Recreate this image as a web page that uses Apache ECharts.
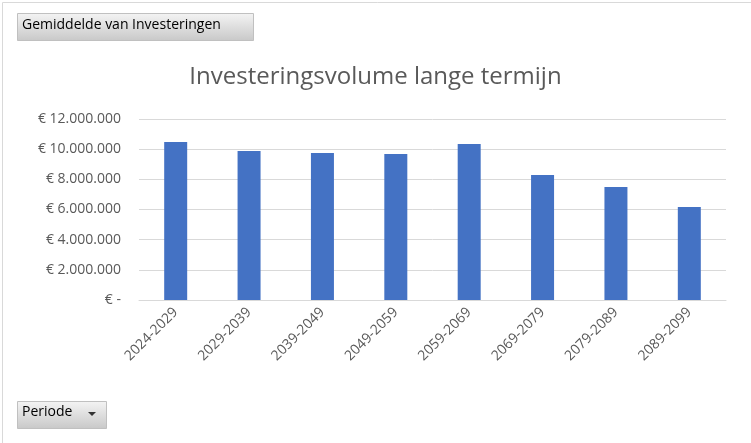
<!DOCTYPE html>
<html><head><meta charset="utf-8">
<script src="https://cdn.jsdelivr.net/npm/echarts@6/dist/echarts.min.js"></script>
<style>html,body{margin:0;padding:0;background:#fff}#c{width:751px;height:443px}</style>
</head><body><div id="c"></div>
<script>
var categories = ['2024-2029','2029-2039','2039-2049','2049-2059','2059-2069','2069-2079','2079-2089','2089-2099'];
var values = [10480000, 9880000, 9750000, 9680000, 10340000, 8290000, 7490000, 6170000];
var title = 'Investeringsvolume lange termijn';
var fieldButton = 'Gemiddelde van Investeringen';
var axisButton = 'Periode';
var font = 'Open Sans';
function fmt(v){ if(v===0) return '€ -'; return '€ ' + String(v).replace(/\B(?=(\d{3})+(?!\d))/g,'.'); }
var chart = echarts.init(document.getElementById('c'));
var grad = {type:'linear',x:0,y:0,x2:0,y2:1,colorStops:[{offset:0,color:'#f4f4f4'},{offset:1,color:'#c8c8c8'}]};
chart.setOption({
  animation:false,
  textStyle:{fontFamily:font},
  title:{text:title,left:'center',top:60,textStyle:{fontFamily:font,fontSize:24,fontWeight:'normal',color:'#595959'}},
  grid:{left:139,right:25,top:119,bottom:143},
  xAxis:{type:'category',data:categories,
    axisLine:{lineStyle:{color:'#d9d9d9'}},axisTick:{show:false},
    axisLabel:{rotate:45,color:'#595959',fontSize:14,fontFamily:font,margin:10}},
  yAxis:{type:'value',min:0,max:12000000,interval:2000000,
    axisLine:{show:false},axisTick:{show:false},
    splitLine:{lineStyle:{color:'#d9d9d9'}},
    axisLabel:{formatter:fmt,color:'#595959',fontSize:14,fontFamily:font,margin:18}},
  series:[{type:'bar',data:values,barWidth:23,itemStyle:{color:'#4472c4'}}],
  graphic:[
    {type:'rect',left:0,top:0,shape:{width:750,height:442},style:{fill:'none',stroke:'#d9d9d9',lineWidth:1}},
    {type:'rect',left:17,top:13,shape:{width:236,height:27},style:{fill:grad,stroke:'#c0c0c0'}},
    {type:'text',left:22,top:18,style:{text:fieldButton,fontSize:14,fontFamily:font,fill:'#000'}},
    {type:'rect',left:17,top:401,shape:{width:89,height:27},style:{fill:grad,stroke:'#c0c0c0'}},
    {type:'text',left:22,top:405,style:{text:axisButton,fontSize:14,fontFamily:font,fill:'#000'}},
    {type:'polygon',shape:{points:[[88,412],[96,412],[92,416]]},style:{fill:'#333'}}
  ]
});
</script></body></html>
